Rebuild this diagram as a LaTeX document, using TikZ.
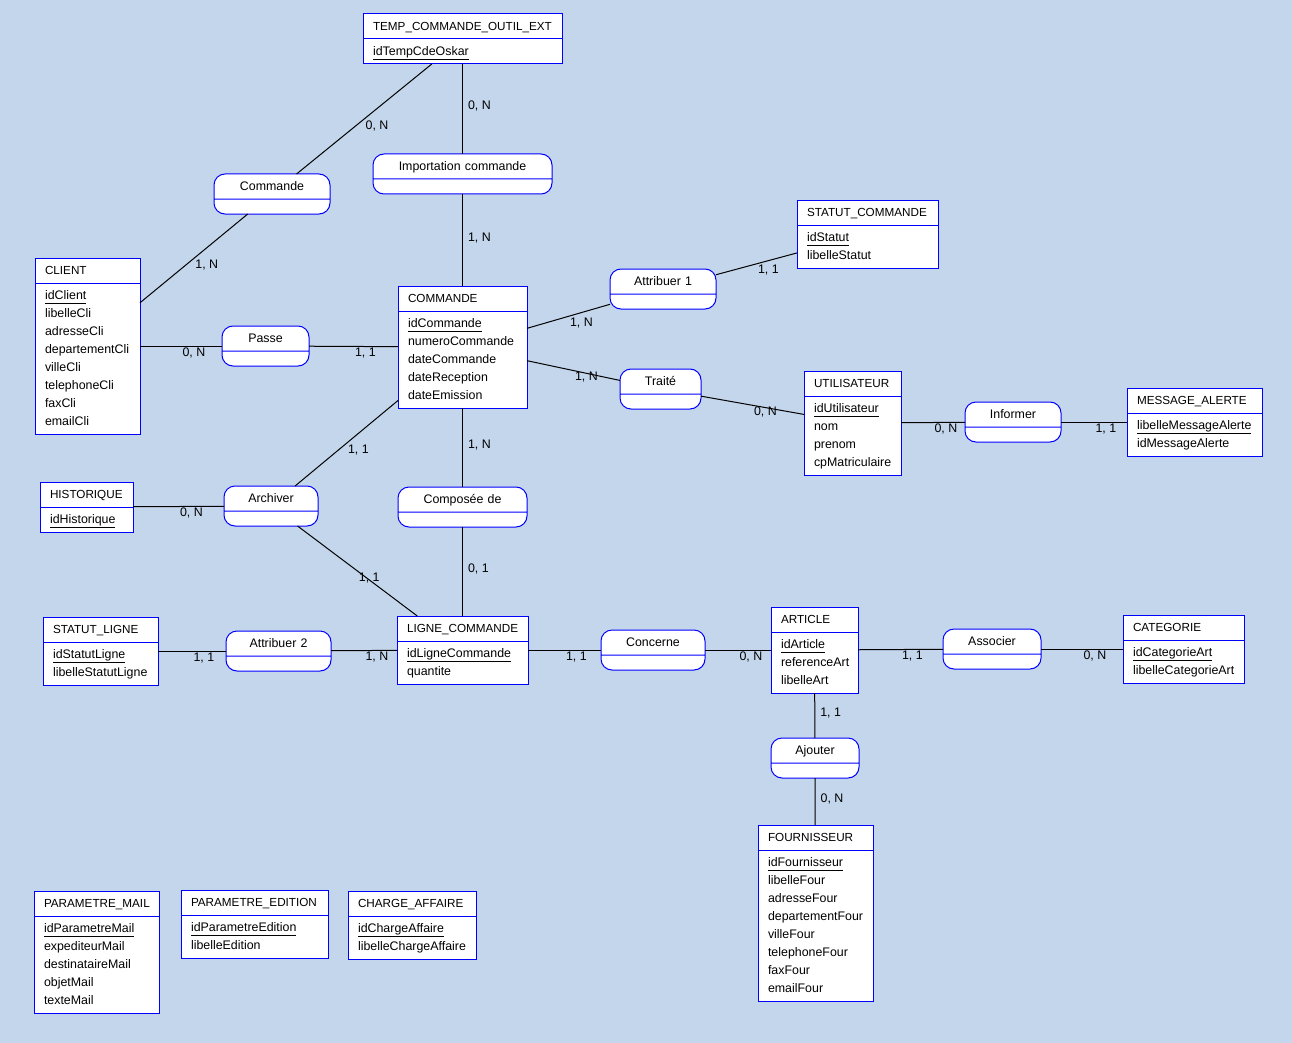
\documentclass[tikz,border=0pt]{standalone}
\usepackage{fontspec}
\setmainfont{Liberation Sans}
\usepackage{tikz}
\usetikzlibrary{shapes.multipart}
\definecolor{mcdfond}{RGB}{196,214,236}
\definecolor{mcdbleu}{HTML}{0000FF}
\newcommand{\idcle}[1]{\setbox0\hbox{#1}\rlap{\rule[-5pt]{\wd0}{0.9pt}}\box0}

\begin{document}
\begin{tikzpicture}[x=1pt, y=-1pt,
  font=\fontsize{12.4}{18}\selectfont,
  entite/.style={draw=mcdbleu, line width=1pt, fill=white,
    rectangle split, rectangle split parts=2, anchor=north west,
    inner xsep=10pt, inner ysep=3pt, outer sep=0pt, align=left,
    every text node part/.style={font=\fontsize{11.7}{18}\selectfont},
    execute at begin node=\strut, execute at end node=\strut},
  assoc/.style={entite, rounded corners=11pt, inner xsep=0pt, align=center,
    every text node part/.style={font=\fontsize{12.4}{18}\selectfont},
    rectangle split empty part height=8pt, rectangle split empty part depth=0pt},
  lien/.style={line width=1pt, black},
  card/.style={inner sep=1pt, anchor=north west},
  cardv/.style={inner sep=1pt, anchor=base west, xshift=4pt, yshift=-1pt},
]
\fill[mcdfond] (0,0) rectangle (1292,1043);

% entites
\node[entite, text width=179pt] (tempcde) at (363,14) {TEMP\_COMMANDE\_OUTIL\_EXT\nodepart{two}\idcle{idTempCdeOskar}};
\node[entite, text width=85pt] (client) at (35,258) {CLIENT\nodepart{two}\idcle{idClient}\\libelleCli\\adresseCli\\departementCli\\villeCli\\telephoneCli\\faxCli\\emailCli};
\node[entite, text width=109pt] (commande) at (398,286) {COMMANDE\nodepart{two}\idcle{idCommande}\\numeroCommande\\dateCommande\\dateReception\\dateEmission};
\node[entite, text width=121pt] (statutcde) at (797,200) {STATUT\_COMMANDE\nodepart{two}\idcle{idStatut}\\libelleStatut};
\node[entite, text width=77pt] (utilisateur) at (804,371) {UTILISATEUR\nodepart{two}\idcle{idUtilisateur}\\nom\\prenom\\cpMatriculaire};
\node[entite, text width=115pt] (message) at (1127,388) {MESSAGE\_ALERTE\nodepart{two}\idcle{libelleMessageAlerte}\\idMessageAlerte};
\node[entite, text width=73pt] (historique) at (40,482) {HISTORIQUE\nodepart{two}\idcle{idHistorique}};
\node[entite, text width=95pt] (statutligne) at (43,617) {STATUT\_LIGNE\nodepart{two}\idcle{idStatutLigne}\\libelleStatutLigne};
\node[entite, text width=111pt] (lignecde) at (397,616) {LIGNE\_COMMANDE\nodepart{two}\idcle{idLigneCommande}\\quantite};
\node[entite, text width=67pt] (article) at (771,607) {ARTICLE\nodepart{two}\idcle{idArticle}\\referenceArt\\libelleArt};
\node[entite, text width=101pt] (categorie) at (1123,615) {CATEGORIE\nodepart{two}\idcle{idCategorieArt}\\libelleCategorieArt};
\node[entite, text width=95pt] (fournisseur) at (758,825) {FOURNISSEUR\nodepart{two}\idcle{idFournisseur}\\libelleFour\\adresseFour\\departementFour\\villeFour\\telephoneFour\\faxFour\\emailFour};
\node[entite, text width=105pt] (parammail) at (34,891) {PARAMETRE\_MAIL\nodepart{two}\idcle{idParametreMail}\\expediteurMail\\destinataireMail\\objetMail\\texteMail};
\node[entite, text width=127pt] (paramedition) at (181,890) {PARAMETRE\_EDITION\nodepart{two}\idcle{idParametreEdition}\\libelleEdition};
\node[entite, text width=108pt] (chargeaff) at (348,891) {CHARGE\_AFFAIRE\nodepart{two}\idcle{idChargeAffaire}\\libelleChargeAffaire};

% associations
\node[assoc, text width=179pt] (importation) at (373,154) {Importation commande};
\node[assoc, text width=116pt] (commander) at (214,174) {Commande};
\node[assoc, text width=106pt] (attribuer1) at (610,269) {Attribuer 1};
\node[assoc, text width=87pt] (passe) at (222,326) {Passe};
\node[assoc, text width=81pt] (traite) at (620,369) {Traité};
\node[assoc, text width=96pt] (informer) at (965,402) {Informer};
\node[assoc, text width=94pt] (archiver) at (224,486) {Archiver};
\node[assoc, text width=129pt] (composee) at (398,487) {Composée de};
\node[assoc, text width=105pt] (attribuer2) at (226,631) {Attribuer 2};
\node[assoc, text width=104pt] (concerne) at (601,630) {Concerne};
\node[assoc, text width=98pt] (associer) at (943,629) {Associer};
\node[assoc, text width=88pt] (ajouter) at (771,738) {Ajouter};

% liens
\draw[lien] (tempcde) -- (commander) node[card, midway] {0, N};
\draw[lien] (tempcde) -- (importation) node[cardv, midway] {0, N};
\draw[lien] (importation) -- (commande) node[cardv, midway] {1, N};
\draw[lien] (commander) -- (client) node[card, midway] {1, N};
\draw[lien] (client) -- (passe) node[card, midway] {0, N};
\draw[lien] (passe) -- (commande) node[card, midway] {1, 1};
\draw[lien] (commande) -- (attribuer1) node[card, midway] {1, N};
\draw[lien] (attribuer1) -- (statutcde) node[card, midway] {1, 1};
\draw[lien] (commande) -- (traite) node[card, midway] {1, N};
\draw[lien] (traite) -- (utilisateur) node[card, midway] {0, N};
\draw[lien] (utilisateur) -- (informer) node[card, midway] {0, N};
\draw[lien] (informer) -- (message) node[card, midway] {1, 1};
\draw[lien] (commande) -- (archiver) node[card, midway] {1, 1};
\draw[lien] (historique) -- (archiver) node[card, midway] {0, N};
\draw[lien] (archiver) -- (lignecde) node[card, midway] {1, 1};
\draw[lien] (commande) -- (composee) node[cardv, midway] {1, N};
\draw[lien] (composee) -- (lignecde) node[cardv, midway] {0, 1};
\draw[lien] (statutligne) -- (attribuer2) node[card, midway] {1, 1};
\draw[lien] (attribuer2) -- (lignecde) node[card, midway] {1, N};
\draw[lien] (lignecde) -- (concerne) node[card, midway] {1, 1};
\draw[lien] (concerne) -- (article) node[card, midway] {0, N};
\draw[lien] (article) -- (associer) node[card, midway] {1, 1};
\draw[lien] (associer) -- (categorie) node[card, midway] {0, N};
\draw[lien] (article) -- (ajouter) node[cardv, midway] {1, 1};
\draw[lien] (ajouter) -- (fournisseur) node[cardv, midway] {0, N};
\end{tikzpicture}
\end{document}
